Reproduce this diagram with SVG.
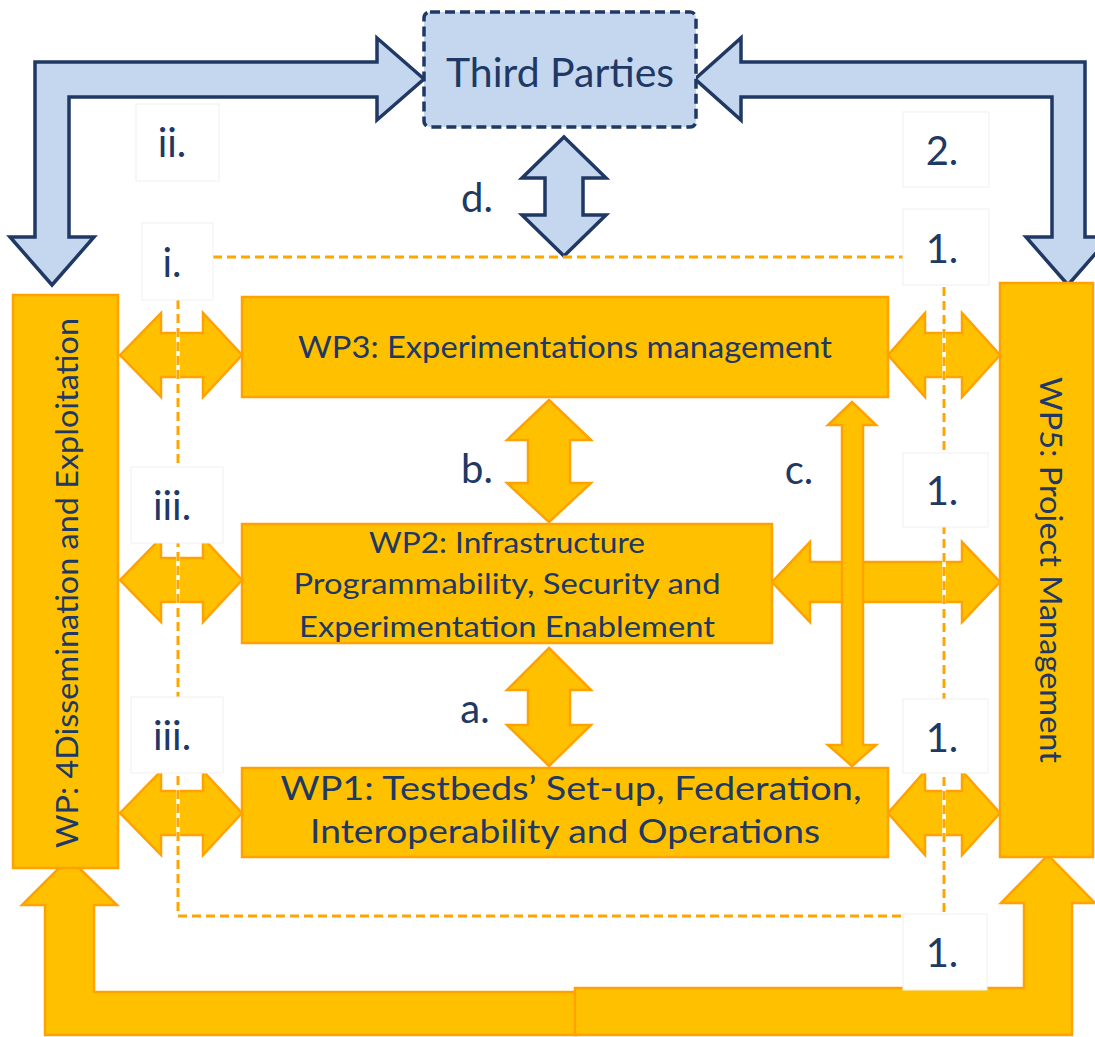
<svg xmlns="http://www.w3.org/2000/svg" width="1095" height="1037" viewBox="0 0 1095 1037">
<style>
.o{fill:#FFC000;stroke:#FFA200;stroke-width:2.5;stroke-linejoin:miter}
.b{fill:#C5D7EF;stroke:#203864;stroke-width:3.5;stroke-linejoin:miter}
.t{font-family:Lato,"Liberation Sans",sans-serif;fill:#203864}
.lbl{font-size:40px;text-anchor:middle}
.lb{fill:#ffffff;stroke:#f0f0f0;stroke-width:1}
.dw{fill:none;stroke:#ffffff;stroke-width:3.5}
.dd{fill:none;stroke:#FFA500;stroke-width:3;stroke-dasharray:9 5}
</style>
<rect width="1095" height="1037" fill="#ffffff"/>
<g id="connectors">
<polygon class="b" points="424,79 377,38 377,62 35,62 35,237 10,237 52,285 94,237 69,237 69,97 377,97 377,120"/>
<polygon class="b" points="695,79 741,38 741,62 1085,62 1085,237 1110,237 1068,285 1026,237 1052,237 1052,97 741,97 741,120"/>
<polygon class="b" points="564,137 606,178 583,178 583,215 606,215 564,256 522,215 545,215 545,178 522,178"/>
<polygon class="o" points="120,355 161,313 161,333 203,333 203,313 242,355 203,397 203,377 161,377 161,397"/>
<polygon class="o" points="120,580 161,538 161,558 203,558 203,538 242,580 203,622 203,602 161,602 161,622"/>
<polygon class="o" points="120,813 161,771 161,791 203,791 203,771 242,813 203,855 203,835 161,835 161,855"/>
<polygon class="o" points="888,355 925,313 925,333 962,333 962,313 1000,355 962,397 962,377 925,377 925,397"/>
<polygon class="o" points="888,813 925,771 925,791 962,791 962,771 1000,813 962,855 962,835 925,835 925,855"/>
<polygon class="o" points="772,582 810,542 810,562 962,562 962,542 1000,582 962,622 962,602 810,602 810,622"/>
<polygon class="o" points="549,400 591,440 570,440 570,483 591,483 549,522 507,483 528,483 528,440 507,440"/>
<polygon class="o" points="549,648 591,690 570,690 570,725 591,725 549,766 507,725 528,725 528,690 507,690"/>
<polygon class="o" points="852,402 876,425 863,425 863,745 876,745 852,766 828,745 842,745 842,425 828,425"/>
<polygon class="o" points="69,858 117,905 94,905 94,992 576,992 576,1035 45,1035 45,905 22,905"/>
<polygon class="o" points="1048,855 1095,903 1072,903 1072,1035 575,1035 575,988 1024,988 1024,903 1001,903"/>
<polyline class="dw" points="178,300 178,916 944,916 944,285"/>
<polyline class="dd" points="178,300 178,916 944,916 944,285"/>
<line class="dd" x1="213" y1="257" x2="903" y2="257"/>
</g>
<g id="labels">
<g id="lbl-ii"><rect class="lb" x="136" y="104" width="83" height="77"/><text class="t lbl" x="172" y="157">ii.</text></g>
<g id="lbl-i"><rect class="lb" x="142" y="223" width="71" height="77"/><text class="t lbl" x="172" y="277">i.</text></g>
<g id="lbl-2"><rect class="lb" x="903" y="112" width="86" height="75"/><text class="t lbl" x="942" y="165">2.</text></g>
<g id="lbl-1a"><rect class="lb" x="903" y="209" width="86" height="76"/><text class="t lbl" x="942" y="263">1.</text></g>
<g id="lbl-1b"><rect class="lb" x="903" y="453" width="85" height="74"/><text class="t lbl" x="942" y="505">1.</text></g>
<g id="lbl-1c"><rect class="lb" x="903" y="699" width="85" height="74"/><text class="t lbl" x="942" y="752">1.</text></g>
<g id="lbl-1d"><rect class="lb" x="903" y="914" width="84" height="76"/><text class="t lbl" x="942" y="967">1.</text></g>
<g id="lbl-iii-a"><rect class="lb" x="131" y="467" width="92" height="76"/><text class="t lbl" x="172" y="520">iii.</text></g>
<g id="lbl-iii-b"><rect class="lb" x="131" y="697" width="92" height="76"/><text class="t lbl" x="172" y="750">iii.</text></g>
<text class="t lbl" x="477" y="212">d.</text>
<text class="t lbl" x="477" y="483">b.</text>
<text class="t lbl" x="799" y="484">c.</text>
<text class="t lbl" x="475" y="723">a.</text>
</g>
<g id="third-parties">
<rect x="424" y="12" width="272" height="115" rx="6" fill="#C5D7EF" stroke="#203864" stroke-width="3.5" stroke-dasharray="10 5"/>
<text class="t" x="560" y="87" font-size="41" text-anchor="middle">Third Parties</text>
</g>
<g id="wp3">
<rect class="o" x="242" y="297" width="646" height="100"/>
<text class="t" x="565" y="358" font-size="31" text-anchor="middle" textLength="534" lengthAdjust="spacingAndGlyphs">WP3: Experimentations management</text>
</g>
<g id="wp2">
<rect class="o" x="242" y="524" width="530" height="119"/>
<text class="t" x="507" y="553" font-size="28" text-anchor="middle" textLength="276" lengthAdjust="spacingAndGlyphs">WP2: Infrastructure</text>
<text class="t" x="507" y="594" font-size="28" text-anchor="middle" textLength="427" lengthAdjust="spacingAndGlyphs">Programmability, Security and</text>
<text class="t" x="507" y="637" font-size="28" text-anchor="middle" textLength="416" lengthAdjust="spacingAndGlyphs">Experimentation Enablement</text>
</g>
<g id="wp1">
<rect class="o" x="242" y="768" width="646" height="89"/>
<text class="t" x="571" y="800" font-size="32" text-anchor="middle" textLength="581" lengthAdjust="spacingAndGlyphs">WP1: Testbeds’ Set-up, Federation,</text>
<text class="t" x="565" y="843" font-size="32" text-anchor="middle" textLength="510" lengthAdjust="spacingAndGlyphs">Interoperability and Operations</text>
</g>
<g id="wp4">
<rect class="o" x="13" y="295" width="105" height="573"/>
<text class="t" transform="translate(78,583) rotate(-90)" font-size="30" text-anchor="middle" textLength="530" lengthAdjust="spacingAndGlyphs">WP: 4Dissemination and Exploitation</text>
</g>
<g id="wp5">
<rect class="o" x="1000" y="283" width="93" height="574"/>
<text class="t" transform="translate(1040,570) rotate(90)" font-size="30" text-anchor="middle" textLength="386" lengthAdjust="spacingAndGlyphs">WP5: Project Management</text>
</g>
</svg>
